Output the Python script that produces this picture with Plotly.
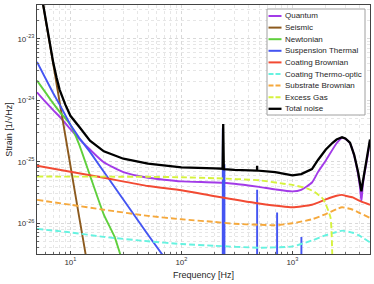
import plotly.graph_objects as go

# ---------------- data ----------------
quantum_f = [5, 6, 7, 8, 10, 12, 15, 20, 30, 50, 70, 100, 200, 300, 500, 700, 1000, 1200, 1500,
             1700, 2000, 2500, 2800, 3000, 3300, 3600, 3900, 4050, 4184, 4300, 4450, 4700, 5000]
quantum_h = [1.35e-24, 9.3e-25, 6.9e-25, 5.4e-25, 3.4e-25, 2.35e-25, 1.58e-25, 9.8e-26, 6.8e-26,
             5.5e-26, 5.1e-26, 4.8e-26, 4.6e-26, 4.4e-26, 3.9e-26, 3.55e-26, 3.3e-26, 3.5e-26,
             4.6e-26, 6.8e-26, 1.05e-25, 2.0e-25, 2.45e-25, 2.35e-25, 2.0e-25, 1.26e-25, 6.3e-26,
             4.0e-26, 2.26e-26, 4.0e-26, 6.3e-26, 1.1e-25, 2.2e-25]

seismic_f = [5, 6, 7, 8, 10, 12, 14, 15]
seismic_h = [1.35e-22, 2.0e-23, 3.9e-24, 9.3e-25, 8.7e-26, 1.26e-26, 2.5e-27, 1.0e-27]

newtonian_f = [5, 6, 7, 8, 10, 12, 15, 20, 25, 28, 32]
newtonian_h = [2.1e-24, 1.32e-24, 8.9e-25, 6.5e-25, 4.0e-25, 1.9e-25, 6.0e-26, 1.38e-26,
               6.0e-27, 3.2e-27, 1.6e-27]

susp_f = [5, 6, 7, 8, 10, 12, 15, 20, 30, 50, 70, 100, 150, 200,
          235.5, 236, 236.5, 243.5, 244, 244.5, 400, 480.5, 481, 481.5, 600,
          727.5, 728, 728.5, 1000, 1204, 1205, 1206, 2000, 5000]
susp_h = [4.2e-24, 2.2e-24, 1.3e-24, 8.5e-25, 4.0e-25, 2.45e-25, 1.45e-25, 6.9e-26, 2.4e-26,
          6.5e-27, 2.8e-27, 1.1e-27, 4e-28, 2e-28,
          1.26e-28, 3.5e-25, 1.26e-28, 1.26e-28, 9.0e-26, 1.26e-28, 5e-29, 3.2e-29, 3.5e-26, 3.2e-29,
          2e-29, 1.26e-29, 1.5e-26, 1.26e-29, 8e-30, 4e-30, 6.0e-27, 4e-30, 1.26e-30, 1.26e-31]

coatbr_f = [5, 10, 20, 50, 100, 200, 500, 1000, 1500, 2000, 2500, 2800, 3000, 3500, 4000, 4500, 5000]
coatbr_h = [8.6e-26, 6.9e-26, 5.5e-26, 4.03e-26, 3.45e-26, 2.75e-26, 2.1e-26, 1.82e-26, 2.0e-26,
            2.45e-26, 2.8e-26, 2.9e-26, 2.8e-26, 2.63e-26, 2.34e-26, 2.14e-26, 2.0e-26]

coatto_f = [5, 10, 20, 50, 100, 200, 500, 1000, 1500, 2000, 2500, 2800, 3500, 4000, 5000]
coatto_h = [8.1e-27, 7.1e-27, 6.0e-27, 5.1e-27, 4.6e-27, 4.3e-27, 4.0e-27, 4.2e-27, 5.25e-27,
            6.4e-27, 7.2e-27, 7.6e-27, 7.0e-27, 6.3e-27, 4.9e-27]

subbr_f = [5, 10, 20, 50, 100, 200, 300, 500, 700, 1000, 1500, 2000, 2500, 2800, 3500, 4000, 5000]
subbr_h = [2.4e-26, 2.0e-26, 1.66e-26, 1.32e-26, 1.16e-26, 1.05e-26, 9.8e-27, 9.45e-27, 9.3e-27,
           1.0e-26, 1.16e-26, 1.41e-26, 1.7e-26, 1.82e-26, 1.66e-26, 1.48e-26, 1.22e-26]

gas_f = [5, 50, 100, 200, 500, 830, 1000, 1350, 1600, 1900, 2200, 2260, 2290, 2330]
gas_h = [5.75e-26, 5.7e-26, 5.6e-26, 5.4e-26, 5.0e-26, 4.4e-26, 4.2e-26, 3.7e-26, 3.2e-26,
         2.45e-26, 1.26e-26, 6.3e-27, 2.5e-27, 3.2e-28]

total_f = [5, 5.67, 6, 6.5, 7, 7.5, 8, 9, 10, 12, 15, 20, 30, 50, 100, 200, 235, 238, 241, 300,
           480, 481, 482, 700, 1000, 1200, 1350, 1500, 1700, 2000, 2300, 2500, 2800, 3000, 3300,
           3600, 3900, 4050, 4184, 4300, 4450, 4700, 5000]
total_h = [1.35e-22, 3.55e-23, 2.1e-23, 8.9e-24, 4.1e-24, 2.35e-24, 1.48e-24, 8.5e-25, 5.6e-25,
           3.7e-25, 2.2e-25, 1.48e-25, 1.12e-25, 9.3e-26, 8.1e-26, 7.8e-26, 7.7e-26, 4.1e-25,
           7.6e-26, 7.4e-26, 7.2e-26, 8.6e-26, 7.2e-26, 6.8e-26, 6.0e-26, 6.3e-26, 6.9e-26,
           7.6e-26, 1.07e-25, 1.58e-25, 2.04e-25, 2.3e-25, 2.5e-25, 2.4e-25, 2.04e-25, 1.3e-25,
           6.9e-26, 4.8e-26, 3.3e-26, 4.6e-26, 6.8e-26, 1.07e-25, 2.3e-25]

x_tickvals = [10, 100, 1000]
x_ticktext = ["10<sup>1</sup>", "10<sup>2</sup>", "10<sup>3</sup>"]
y_tickvals = [1e-26, 1e-25, 1e-24, 1e-23]
y_ticktext = ["10<sup>-26</sup>", "10<sup>-25</sup>", "10<sup>-24</sup>", "10<sup>-23</sup>"]

# ---------------- figure ----------------
series = [
    ("Quantum", quantum_f, quantum_h, "#a23be8", None, "spline"),
    ("Seismic", seismic_f, seismic_h, "#8c5a1e", None, "spline"),
    ("Newtonian", newtonian_f, newtonian_h, "#5fcf3c", None, "spline"),
    ("Suspension Thermal", susp_f, susp_h, "#4455f2", None, "linear"),
    ("Coating Brownian", coatbr_f, coatbr_h, "#f24a33", None, "spline"),
    ("Coating Thermo-optic", coatto_f, coatto_h, "#66f2e0", "6px,3px", "spline"),
    ("Substrate Brownian", subbr_f, subbr_h, "#f5a83c", "6px,3px", "spline"),
    ("Excess Gas", gas_f, gas_h, "#d6f23e", "6px,3px", "spline"),
    ("Total noise", total_f, total_h, "#000000", None, "linear"),
]

W, H = 374, 284
ML, MR, MT, MB = 37, 4, 5, 30
PW, PH = W - ML - MR, H - MT - MB

fig = go.Figure()
for name, f, h, color, dash, shape in series:
    line = dict(color=color, width=2.3 if name == "Total noise" else 1.9, shape=shape)
    if shape == "spline":
        line["smoothing"] = 0.5
    if dash:
        line["dash"] = dash
    fig.add_trace(go.Scatter(x=f, y=h, mode="lines", name=name, line=line, showlegend=False))

font_family = "Liberation Sans, Arial, sans-serif"

# ---- custom compact legend (MATLAB style) ----
def px_x(p):
    return (p - ML) / PW

def px_y(p):
    return (H - MB - p) / PH

leg_left, leg_right, leg_top, leg_bottom = 267, 365, 9, 115
item_y0, item_step = 16, 11.6
shapes = [dict(type="rect", xref="paper", yref="paper", layer="above",
               x0=px_x(leg_left), x1=px_x(leg_right), y0=px_y(leg_bottom), y1=px_y(leg_top),
               fillcolor="white", line=dict(color="#a0a0a0", width=1))]
annotations = []
for i, (name, f, h, color, dash, shape) in enumerate(series):
    cy = item_y0 + i * item_step
    ln = dict(color=color, width=2.3 if name == "Total noise" else 2)
    if dash:
        ln["dash"] = "5px,2px"
    shapes.append(dict(type="line", xref="paper", yref="paper", layer="above",
                       x0=px_x(268.5), x1=px_x(281.5), y0=px_y(cy), y1=px_y(cy), line=ln))
    annotations.append(dict(xref="paper", yref="paper", x=px_x(283), y=px_y(cy),
                            xanchor="left", yanchor="middle", text=name, showarrow=False,
                            font=dict(size=8, color="#262626", family=font_family)))

axis_common = dict(
    type="log",
    showline=True, mirror=True, linecolor="#444444", linewidth=1,
    ticks="inside", ticklen=3, tickcolor="#444444",
    showgrid=True, gridcolor="#d9d9d9", griddash="dot", gridwidth=1,
    minor=dict(ticks="inside", ticklen=2, tickcolor="#666666", showgrid=True,
               gridcolor="#e6e6e6", griddash="dot", dtick="D1"),
    tickfont=dict(size=8, color="#333333", family=font_family),
    zeroline=False,
)

fig.update_xaxes(**axis_common, range=[0.69897, 3.69897], tickvals=x_tickvals,
                 ticktext=x_ticktext,
                 title=dict(text="Frequency [Hz]", font=dict(size=9, color="#262626", family=font_family),
                            standoff=6))
fig.update_yaxes(**axis_common, range=[-26.5, -22.45], tickvals=y_tickvals,
                 ticktext=y_ticktext,
                 title=dict(text="Strain [1/√Hz]", font=dict(size=9, color="#262626", family=font_family),
                            standoff=3))

fig.update_layout(
    width=W, height=H,
    margin=dict(l=ML, r=MR, t=MT, b=MB, autoexpand=False),
    plot_bgcolor="white", paper_bgcolor="white",
    font=dict(family=font_family, size=8, color="#262626"),
    shapes=shapes, annotations=annotations,
    showlegend=False,
)

fig.write_html("out.html", config={"displayModeBar": False},
               post_script="document.body.style.margin='0';")
